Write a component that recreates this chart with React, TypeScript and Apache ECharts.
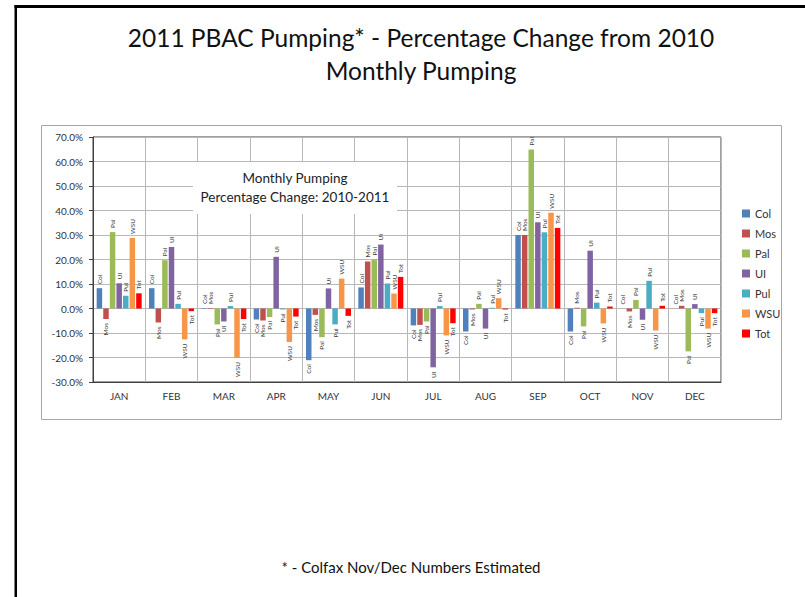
import React, { useEffect, useRef } from "react";
import * as echarts from "echarts";

const months = ["JAN", "FEB", "MAR", "APR", "MAY", "JUN", "JUL", "AUG", "SEP", "OCT", "NOV", "DEC"];
const seriesNames = ["Col", "Mos", "Pal", "UI", "Pul", "WSU", "Tot"];
const colors = ["#4F81BD", "#C0504D", "#9BBB59", "#8064A2", "#4BACC6", "#F79646", "#FF0000"];

const colValues = [8.3, 8.3, 0.2, -4.5, -21.1, 8.6, -6.9, -9.4, 30.0, -9.4, 0, 0];
const mosValues = [-4.3, -5.7, 0.2, -4.9, -2.6, 19.2, -6.7, -0.4, 30.0, 0.3, -1.2, 1.1];
const palValues = [31.2, 19.7, -6.5, -3.5, -11.7, 20.0, -5.3, 1.9, 64.9, -7.3, 3.5, -17.5];
const uiValues = [10.3, 25.1, -5.3, 21.1, 8.2, 26.1, -24.0, -8.2, 35.2, 23.6, -4.6, 1.8];
const pulValues = [5.2, 1.9, 1.0, -0.4, -6.5, 10.2, 1.0, 0.3, 31.1, 2.4, 11.3, -1.9];
const wsuValues = [28.8, -12.6, -20.2, -13.7, 12.2, 6.1, -11.0, 4.2, 39.1, -6.1, -9.0, -8.2];
const totValues = [6.2, -1.1, -4.3, -3.3, -3.0, 12.9, -6.0, -0.4, 32.9, 0.8, 1.1, -1.9];

const allValues = [colValues, mosValues, palValues, uiValues, pulValues, wsuValues, totValues];

const yMin = -30;
const yMax = 70;
const yInterval = 10;

const titleLine1 = "2011 PBAC Pumping* - Percentage Change from 2010";
const titleLine2 = "Monthly Pumping";
const boxLine1 = "Monthly Pumping";
const boxLine2 = "Percentage Change: 2010-2011";
const footnote = "* - Colfax Nov/Dec Numbers Estimated";

const FONT = "Lato, 'Open Sans', sans-serif";

export default function App() {
  const ref = useRef<HTMLDivElement>(null);

  useEffect(() => {
    if (!ref.current) return;
    const chart = echarts.init(ref.current, undefined, { renderer: "svg" });

    const series = seriesNames.map((name, i) => ({
      name,
      type: "bar",
      barCategoryGap: "14%",
      barGap: "20%",
      itemStyle: { color: colors[i] },
      label: {
        show: true,
        formatter: name,
        rotate: 90,
        fontSize: 6.5,
        fontFamily: FONT,
        color: "#404040",
        verticalAlign: "middle",
        distance: 4,
      },
      data: allValues[i].map((v) => ({
        value: v,
        label: {
          position: v >= 0 ? "top" : "bottom",
          align: v >= 0 ? "left" : "right",
        },
      })),
    }));

    chart.setOption({
      animation: false,
      backgroundColor: "#ffffff",
      textStyle: { fontFamily: FONT },
      grid: {
        left: 93,
        right: 84,
        top: 137,
        bottom: 215,
        show: true,
        borderColor: "#404040",
        borderWidth: 1,
        backgroundColor: "transparent",
      },
      legend: {
        data: seriesNames,
        orient: "vertical",
        left: 737,
        top: 202,
        itemWidth: 8,
        itemHeight: 8,
        itemGap: 7,
        icon: "rect",
        textStyle: { fontSize: 11, fontFamily: FONT, color: "#333", lineHeight: 13 },
      },
      xAxis: {
        type: "category",
        data: months,
        axisLine: { show: true, onZero: false, lineStyle: { color: "#404040" } },
        axisTick: { show: false },
        splitLine: { show: true, lineStyle: { color: "#b8b8b8", width: 1 } },
        axisLabel: { fontSize: 10, fontFamily: FONT, color: "#333", margin: 9 },
      },
      yAxis: {
        type: "value",
        min: yMin,
        max: yMax,
        interval: yInterval,
        axisLine: { show: true, lineStyle: { color: "#404040" } },
        axisTick: { show: true, length: 4, lineStyle: { color: "#404040" } },
        splitLine: { show: true, lineStyle: { color: "#b8b8b8", width: 1 } },
        axisLabel: {
          fontSize: 10,
          fontFamily: FONT,
          color: "#333",
          margin: 10,
          formatter: (v: number) => v.toFixed(1) + "%",
        },
      },
      graphic: [
        {
          type: "rect",
          shape: { x: 14.5, y: 5, width: 800, height: 3 },
          style: { fill: "#000", stroke: "none" },
          silent: true,
        },
        {
          type: "rect",
          shape: { x: 14.5, y: 5, width: 2.5, height: 600 },
          style: { fill: "#000", stroke: "none" },
          silent: true,
        },
        {
          type: "rect",
          shape: { x: 41.5, y: 125.5, width: 740, height: 294 },
          style: { fill: "none", stroke: "#a6a6a6", lineWidth: 1 },
          z: -1,
          silent: true,
        },
        {
          type: "rect",
          shape: { x: 193, y: 162, width: 204, height: 52 },
          style: { fill: "#fff", stroke: "none" },
          z: 5,
          silent: true,
        },
        {
          type: "text",
          x: 295,
          y: 178,
          z: 6,
          style: { text: boxLine1, fontSize: 13.5, fontFamily: FONT, fill: "#222", align: "center", verticalAlign: "middle" },
        },
        {
          type: "text",
          x: 295,
          y: 197,
          z: 6,
          style: { text: boxLine2, fontSize: 13.5, fontFamily: FONT, fill: "#222", align: "center", verticalAlign: "middle" },
        },
        {
          type: "text",
          x: 421,
          y: 37,
          style: { text: titleLine1, fontSize: 24.5, fontFamily: FONT, fill: "#111", align: "center", verticalAlign: "middle" },
        },
        {
          type: "text",
          x: 421,
          y: 70,
          style: { text: titleLine2, fontSize: 24.5, fontFamily: FONT, fill: "#111", align: "center", verticalAlign: "middle" },
        },
        {
          type: "text",
          x: 411,
          y: 567,
          style: { text: footnote, fontSize: 15, fontFamily: FONT, fill: "#111", align: "center", verticalAlign: "middle" },
        },
      ],
      series,
    });

    return () => chart.dispose();
  }, []);

  return (
    <div
      ref={ref}
      style={{ position: "fixed", left: 0, top: 0, width: 805, height: 597, background: "#fff", overflow: "hidden" }}
    />
  );
}
